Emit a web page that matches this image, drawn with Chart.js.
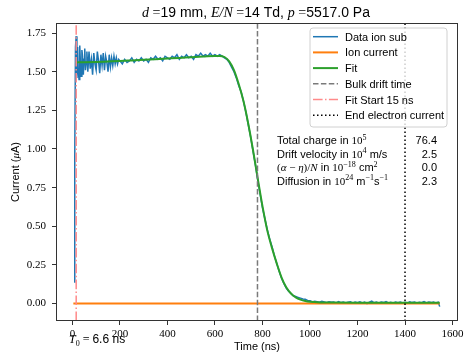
<!DOCTYPE html>
<html>
<head>
<meta charset="utf-8">
<script src="https://cdn.jsdelivr.net/npm/chart.js@4.4.0/dist/chart.umd.min.js"></script>
<style>
html,body{margin:0;padding:0;background:#fff;}
#wrap{width:468px;height:353px;position:relative;}
</style>
</head>
<body>
<div id="wrap"><canvas id="c" width="468" height="353"></canvas></div>
<script>
// ---- data ----
const dataTime = [7,10,13,16,19,22,25,28,31,34,37,40,43,46,49,52,55,58,61,
65,70,75,80,85,90,95,100,105,110,115,120,125,130,135,140,145,150,155,160,165,170,175,180,185,190,195,
200,210,220,230,240,250,260,270,280,290,
300,310,320,330,340,350,360,370,380,390,
400,410,420,430,440,450,460,470,480,490,
500,510,520,530,540,550,560,570,580,590,
600,610,620,630,640,650,660,670,680,690,
700,710,720,730,740,750,760,770,780,790,
800,810,820,830,840,850,860,870,880,890,
900,910,920,930,940,950,960,970,980,990,
1000,1010,1020,1030,1040,1050,1060,1070,1080,1090,
1100,1110,1120,1130,1140,1150,1160,1170,1180,1190,
1200,1210,1220,1230,1240,1250,1260,1270,1280,1290,
1300,1310,1320,1330,1340,1350,1360,1370,1380,1390,
1400,1410,1420,1430,1440,1450,1460,1470,1480,1490,
1500,1510,1520,1530,1540,1546];
const dataCurrent = [0.14,0.95,1.66,1.73,1.46,1.66,1.50,1.45,1.67,1.55,1.47,1.64,1.60,1.48,1.58,1.65,1.51,1.56,1.63,
1.50,1.63,1.52,1.58,1.48,1.62,1.55,1.51,1.63,1.57,1.49,1.61,1.54,1.62,1.51,1.60,1.56,1.50,1.61,1.53,1.59,1.54,1.60,1.55,1.59,1.55,1.58,
1.57,1.55,1.58,1.56,1.57,1.59,1.56,1.58,1.57,1.59,
1.57,1.58,1.56,1.59,1.58,1.60,1.58,1.59,1.57,1.60,
1.59,1.58,1.60,1.59,1.61,1.58,1.60,1.59,1.61,1.59,
1.60,1.58,1.61,1.60,1.62,1.60,1.61,1.60,1.62,1.60,
1.61,1.60,1.61,1.60,1.59,1.58,1.56,1.53,1.50,1.46,
1.41,1.37,1.31,1.24,1.16,1.08,0.99,0.90,0.80,0.71,
0.62,0.55,0.48,0.42,0.37,0.31,0.26,0.21,0.165,0.13,
0.10,0.08,0.065,0.05,0.045,0.04,0.035,0.03,0.028,0.02,
0.018,0.010,0.015,0.012,0.008,0.015,0.010,0.005,0.012,0.008,
0.010,0.003,0.012,0.006,0.010,0.004,0.009,0.012,0.002,0.010,
0.006,0.011,0.004,0.009,0.000,0.008,0.015,0.005,0.010,0.003,
0.009,0.006,0.012,0.004,0.008,0.002,0.010,0.005,0.009,0.004,
0.008,0.003,0.011,0.006,0.009,0.002,0.008,0.005,0.012,0.004,
0.009,0.006,0.010,0.003,0.008,-0.02];

const ionTime = [4, 1546];
const ionCurrent = [0, 0];

const fitTime = [15,50,100,150,200,250,300,350,400,450,500,550,600,
620,640,660,680,700,720,740,760,780,800,820,840,860,880,900,920,940,960,980,1000,
1050,1100,1200,1300,1400,1500,1546];
const fitCurrent = [1.560,1.561,1.563,1.566,1.569,1.573,1.577,1.581,1.585,1.589,1.594,1.598,1.602,
1.602,1.595,1.567,1.51,1.42,1.31,1.165,0.995,0.81,0.63,0.475,0.36,0.26,0.17,0.105,0.065,0.04,0.025,0.016,0.011,
0.007,0.006,0.005,0.005,0.005,0.005,0.005];

const bulkDriftTime = 779;
const fitStartTime = 16;
const endElectronTime = 1400;

const xTicks = [0,200,400,600,800,1000,1200,1400,1600];
const yTicks = [0,0.25,0.5,0.75,1.0,1.25,1.5,1.75];
const xRange = [-69, 1623];
const yRange = [-0.113, 1.815];

const legendLabels = ['Data ion sub','Ion current','Fit','Bulk drift time','Fit Start 15 ns','End electron current'];
const tableValues = ['76.4','2.5','0.0','2.3'];
const t0Text = '6.6 ns';

// ---- build ----
const pts = (xs, ys) => xs.map((x, i) => ({x, y: ys[i]}));
const vline = x => [{x, y: yRange[0]}, {x, y: yRange[1]}];

const SANS = '"Liberation Sans", Arial, sans-serif';
const SERIF = '"Liberation Serif", "DejaVu Serif", serif';

const styles = {
  blue:  {color:'#1f77b4', width:1.5, dash:[]},
  orange:{color:'#ff7f0e', width:2, dash:[]},
  green: {color:'#2ca02c', width:2, dash:[]},
  gray:  {color:'#7a7a7a', width:1.5, dash:[5.5,2.4]},
  pink:  {color:'#ff8a8a', width:1.5, dash:[9.6,2.4,1.5,2.4]},
  black: {color:'#000000', width:1.5, dash:[1.5,2.5]}
};
const legendStyles = [styles.blue, styles.orange, styles.green, styles.gray, styles.pink, styles.black];

function ds(label, data, st, order, extra) {
  return Object.assign({
    label, data, borderColor: st.color, borderWidth: st.width, borderDash: st.dash,
    pointRadius: 0, fill: false, tension: 0, order
  }, extra || {});
}

function fontOf(f, s) {
  if (f === 'sans') return s + 'px ' + SANS;
  if (f === 'ital') return 'italic ' + s + 'px ' + SERIF;
  return s + 'px ' + SERIF;
}
function richWidth(ctx, segs) {
  let w = 0;
  for (const g of segs) { ctx.font = fontOf(g.f, g.s); w += ctx.measureText(g.t).width; }
  return w;
}
function drawRich(ctx, segs, x, y, align) {
  const w = richWidth(ctx, segs);
  let cx = align === 'center' ? x - w / 2 : (align === 'right' ? x - w : x);
  ctx.textBaseline = 'alphabetic';
  ctx.textAlign = 'left';
  for (const g of segs) {
    ctx.font = fontOf(g.f, g.s);
    ctx.fillText(g.t, cx, y + (g.dy || 0));
    cx += ctx.measureText(g.t).width;
  }
}
const S = (t, s, dy) => ({t, f:'sans', s: s || 11, dy});
const R = (t, s, dy) => ({t, f:'serif', s: s || 11, dy});
const I = (t, s, dy) => ({t, f:'ital', s: s || 11, dy});
const SUP = t => ({t, f:'serif', s: 8, dy: -4.5});

const deco = {
  id: 'deco',
  afterDraw(chart) {
    const ctx = chart.ctx;
    const a = chart.chartArea;
    ctx.save();
    ctx.fillStyle = '#000';
    // frame
    ctx.strokeStyle = '#333';
    ctx.lineWidth = 1;
    ctx.setLineDash([]);
    ctx.strokeRect(Math.round(a.left) + 0.5, Math.round(a.top) + 0.5,
                   Math.round(a.right - a.left) - 1, Math.round(a.bottom - a.top) - 1);
    // title
    drawRich(ctx, [I('d',14), R(' =',14), S('19 mm, ',14), I('E/N',14), R(' =',14), S('14 Td, ',14),
                   I('p',14), R(' =',14), S('5517.0 Pa',14)], 256, 17, 'center');
    // axis titles
    drawRich(ctx, [S('Time (ns)')], 257, 350, 'center');
    ctx.save();
    ctx.translate(19, 172);
    ctx.rotate(-Math.PI / 2);
    drawRich(ctx, [S('Current ('), I('μ'), S('A)')], 0, 0, 'center');
    ctx.restore();
    // T0
    drawRich(ctx, [I('T',12), R('0',8,3), R(' = ',12), S(t0Text,12)], 69, 343, 'left');
    // legend
    const lx = 310, ly = 28, lw = 137, lh = 99, r = 3;
    ctx.beginPath();
    ctx.moveTo(lx + r, ly);
    ctx.arcTo(lx + lw, ly, lx + lw, ly + lh, r);
    ctx.arcTo(lx + lw, ly + lh, lx, ly + lh, r);
    ctx.arcTo(lx, ly + lh, lx, ly, r);
    ctx.arcTo(lx, ly, lx + lw, ly, r);
    ctx.closePath();
    ctx.fillStyle = 'rgba(255,255,255,0.8)';
    ctx.fill();
    ctx.strokeStyle = '#d0d0d0';
    ctx.lineWidth = 1;
    ctx.stroke();
    legendLabels.forEach((lab, i) => {
      const cy = 36.7 + i * 15.7;
      const st = legendStyles[i];
      ctx.beginPath();
      ctx.strokeStyle = st.color;
      ctx.lineWidth = st.width;
      ctx.setLineDash(st.dash);
      ctx.moveTo(313, cy); ctx.lineTo(338, cy);
      ctx.stroke();
      ctx.setLineDash([]);
      ctx.fillStyle = '#000';
      drawRich(ctx, [S(lab)], 345, cy + 4, 'left');
    });
    // table
    ctx.fillStyle = '#000';
    const rows = [
      [S('Total charge in '), R('10'), SUP('5')],
      [S('Drift velocity in '), R('10'), SUP('4'), S(' m/s')],
      [R('('), I('α'), R(' − '), I('η'), R(')/'), I('N'), S(' in '), R('10'), SUP('−18'), S(' cm'), SUP('2')],
      [S('Diffusion in '), R('10'), SUP('24'), S(' m'), SUP('−1'), S('s'), SUP('−1')]
    ];
    const base = [144, 157.5, 171, 184.5];
    rows.forEach((segs, i) => {
      drawRich(ctx, segs, 277, base[i], 'left');
      drawRich(ctx, [S(tableValues[i])], 437, base[i], 'right');
    });
    ctx.restore();
  }
};

new Chart(document.getElementById('c'), {
  type: 'line',
  data: {
    datasets: [
      ds('Data ion sub', pts(dataTime, dataCurrent), styles.blue, 6),
      ds('Ion current', pts(ionTime, ionCurrent), styles.orange, 5),
      ds('Fit', pts(fitTime, fitCurrent), styles.green, 4, {cubicInterpolationMode: 'monotone'}),
      ds('Bulk drift time', vline(bulkDriftTime), styles.gray, 3),
      ds('Fit Start 15 ns', vline(fitStartTime), styles.pink, 2),
      ds('End electron current', vline(endElectronTime), styles.black, 1)
    ]
  },
  options: {
    responsive: false,
    animation: false,
    events: [],
    layout: {padding: {left: 0, top: 23, right: 10, bottom: 0}},
    plugins: {legend: {display: false}, title: {display: false}, tooltip: {enabled: false}},
    scales: {
      x: {
        type: 'linear', min: xRange[0], max: xRange[1],
        afterBuildTicks: s => { s.ticks = xTicks.map(v => ({value: v})); },
        afterFit: s => { s.height = 32; },
        grid: {drawOnChartArea: false, drawTicks: true, tickLength: 4, color: '#333', tickWidth: 1},
        border: {display: false},
        ticks: {font: {family: SERIF, size: 11}, color: '#000', padding: 3, maxRotation: 0,
                callback: v => String(v)}
      },
      y: {
        type: 'linear', min: yRange[0], max: yRange[1],
        afterBuildTicks: s => { s.ticks = yTicks.map(v => ({value: v})); },
        afterFit: s => { s.width = 56; },
        grid: {drawOnChartArea: false, drawTicks: true, tickLength: 4, color: '#333', tickWidth: 1},
        border: {display: false},
        ticks: {font: {family: SERIF, size: 11}, color: '#000', padding: 6,
                callback: v => Number(v).toFixed(2)}
      }
    }
  },
  plugins: [deco]
});
</script>
</body>
</html>
